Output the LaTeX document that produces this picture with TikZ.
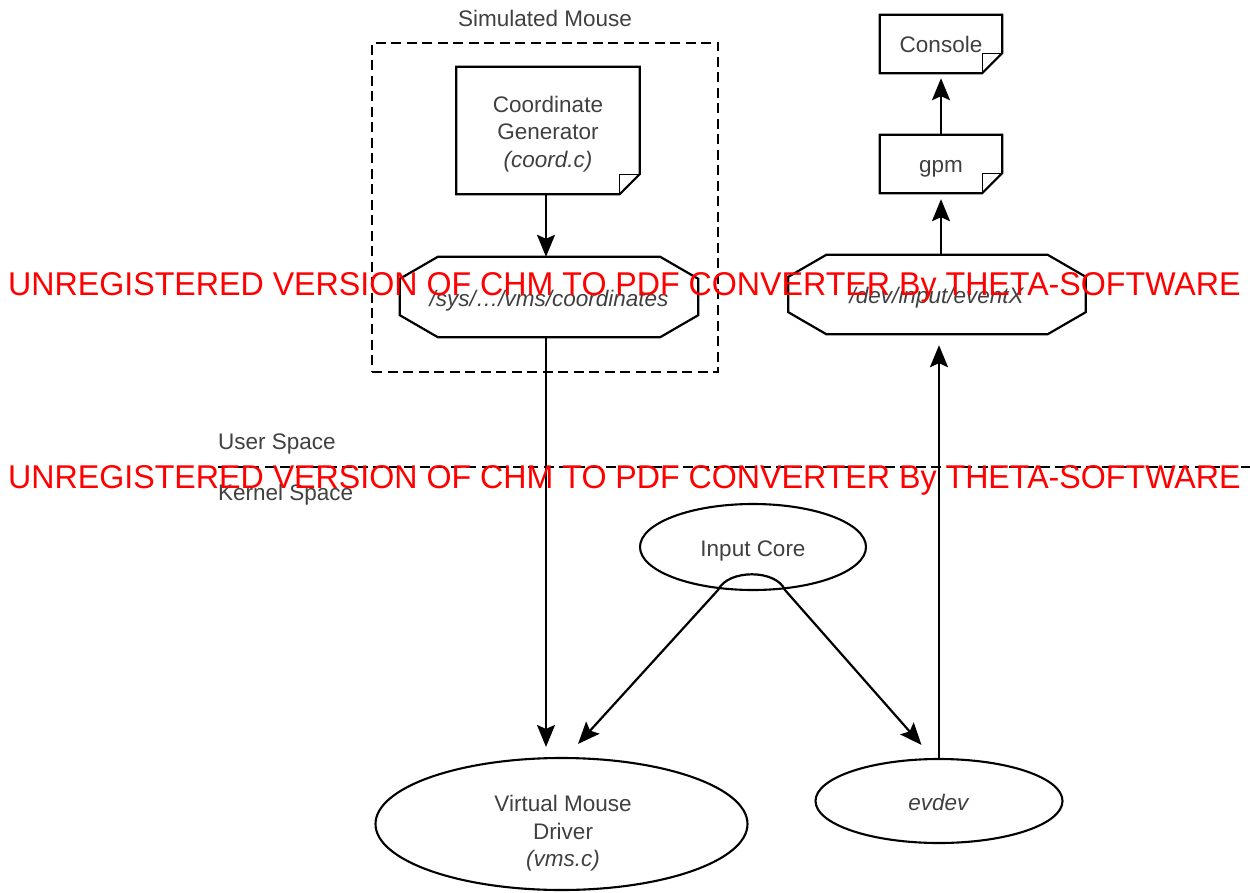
\documentclass[tikz,border=0pt]{standalone}
\usepackage{fontspec}
\setmainfont{Liberation Sans}
\usepackage{graphicx}
\usetikzlibrary{arrows.meta,shapes.geometric}
\definecolor{txt}{gray}{0.25}
\tikzset{
  lbl/.style={font=\fontsize{22.5}{27.5}\selectfont, text=txt, align=center, inner sep=0pt, text height=20pt, text depth=2pt},
  mtext/.style={font=\fontsize{22.5}{27.5}\selectfont, text=txt, align=center, inner sep=0pt},
  box/.style={lbl, draw=none},
  bline/.style={line width=2.2pt, draw=black},
  tip/.tip={Stealth[length=22pt,width=18pt,inset=4pt]},
  arr/.style={bline, -tip},
  dline/.style={line width=2.1pt, draw=black, dash pattern=on 10pt off 5.5pt},
  oval/.style={box, ellipse, draw, line width=2.1pt},
  wmark/.style={anchor=base west, inner sep=0pt, text=red}
}
\newcommand\docshape[1]{%
  \draw[bline, line join=miter] (#1.north west) -- (#1.north east) -- ([yshift=20pt]#1.south east) -- ([xshift=-20pt]#1.south east) -- (#1.south west) -- cycle;
  \draw[line width=1pt] ([xshift=-20pt]#1.south east) -- ([xshift=-20pt,yshift=20pt]#1.south east) -- ([yshift=20pt]#1.south east);}
\newcommand\octshape[1]{%
  \draw[bline, line join=miter] ([xshift=38pt]#1.north west) -- ([xshift=-38pt]#1.north east) -- ([yshift=-22pt]#1.north east) -- ([yshift=22pt]#1.south east) -- ([xshift=-38pt]#1.south east) -- ([xshift=38pt]#1.south west) -- ([yshift=22pt]#1.south west) -- ([yshift=-22pt]#1.north west) -- cycle;}
\begin{document}
\begin{tikzpicture}[x=1pt,y=-1pt]
\useasboundingbox (0,0) rectangle (1250,893);
\fill[white] (0,0) rectangle (1250,893);

% simulated mouse group
\node[lbl] (simlbl) at (545,18) {Simulated Mouse};
\node[dline, draw, minimum width=346pt, minimum height=329pt, inner sep=0pt] (sim) at (545,207.5) {};

\node[box, minimum width=183pt, minimum height=127pt] (cg) at (548,130.5) {};
\docshape{cg}
\node[mtext] (cgt) at (548,134) {Coordinate\\Generator\\\textit{(coord.c)}};
\node[box, minimum width=298pt, minimum height=80pt] (sys) at (549,297) {\textit{/sys/…/vms/coordinates}};
\octshape{sys}

% right column
\node[box, minimum width=122pt, minimum height=58pt] (con) at (941,44) {Console};
\docshape{con}
\node[box, minimum width=122pt, minimum height=58pt] (gpm) at (941,164) {gpm};
\docshape{gpm}
\node[box, minimum width=297pt, minimum height=79pt] (evx) at (937,294.5) {\textit{/dev/input/eventX}};
\octshape{evx}

% separator
\node[lbl, anchor=west] (us) at (218,440) {User Space};
\node[lbl, anchor=west] (ks) at (218,491) {Kernel Space};
\coordinate (sepL) at (218,467);
\coordinate (sepR) at (1250,467);
\draw[dline] (sepL) -- (sepR);

% kernel nodes
\node[oval, minimum width=226pt, minimum height=86pt] (ic) at (753,547) {Input Core};
\node[oval, minimum width=372pt, minimum height=132pt] (vmd) at (561.5,824) {};
\node[mtext] (vmdt) at (563,833.5) {Virtual Mouse\\Driver\\\textit{(vms.c)}};
\node[oval, minimum width=247pt, minimum height=84pt] (ev) at (939,801) {\textit{evdev}};

% connectors
\coordinate (colA) at (546,0);
\draw[arr] (cg.south -| colA) -- (sys.north -| colA);
\draw[arr, shorten >=10pt] (sys.south -| colA) -- (vmd.north -| colA);
\draw[arr, shorten >=5pt] (gpm.north) -- (con.south);
\draw[arr, shorten >=6pt] (evx.north -| gpm.south) -- (gpm.south);
\draw[arr, shorten >=11pt] (ev.north) -- (evx.south -| ev.north);
\draw[bline, tip-tip] ([xshift=16.5pt,yshift=13pt]vmd.north) -- ([xshift=-35pt,yshift=1pt]ic.south)
  .. controls ([xshift=-25pt,yshift=22pt]ic.south) and ([xshift=23pt,yshift=22pt]ic.south) ..
  ([xshift=32pt,yshift=1pt]ic.south) -- ([xshift=-17.5pt,yshift=13pt]ev.north);

% watermark
\node[wmark] (wm1) at (8,295) {\resizebox{1232pt}{23pt}{UNREGISTERED VERSION OF CHM TO PDF CONVERTER By THETA-SOFTWARE}};
\node[wmark] (wm2) at (8,488) {\resizebox{1232pt}{23pt}{UNREGISTERED VERSION OF CHM TO PDF CONVERTER By THETA-SOFTWARE}};
\end{tikzpicture}
\end{document}
